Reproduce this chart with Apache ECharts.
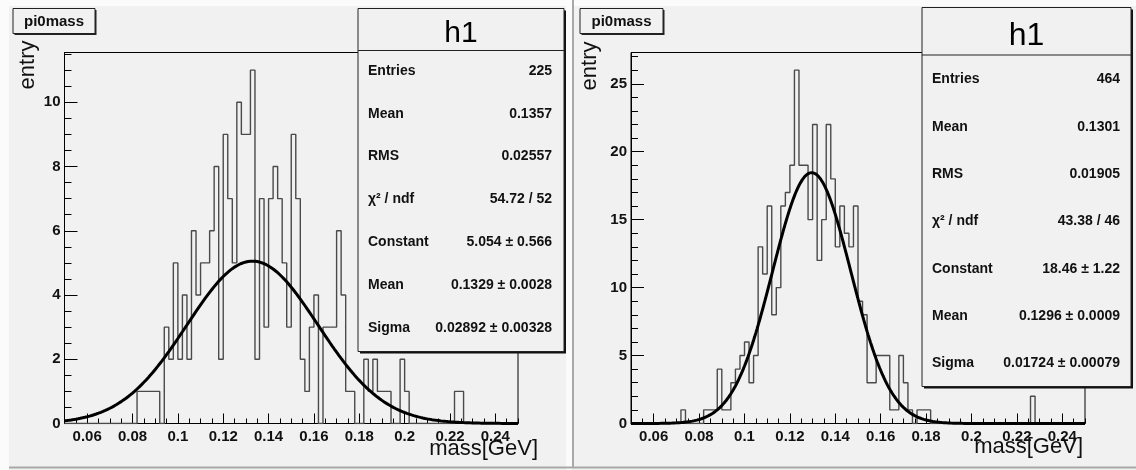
<!DOCTYPE html>
<html>
<head>
<meta charset="utf-8">
<script src="https://cdn.jsdelivr.net/npm/echarts@6/dist/echarts.min.js"></script>
<style>
  html, body { margin: 0; padding: 0; background: #ffffff; }
  #chart { width: 1136px; height: 470px; }
</style>
</head>
<body>
<div id="chart"></div>
<script>
// ---- histogram binning (shared by both pads) ----
const X_MIN = 0.05;
const X_MAX = 0.25;
const BIN_WIDTH = 0.002;

// ---- tick labels ----
const xTickLabels = [0.06, 0.08, 0.1, 0.12, 0.14, 0.16, 0.18, 0.2, 0.22, 0.24];
const leftYTickLabels = [0, 2, 4, 6, 8, 10];
const rightYTickLabels = [0, 5, 10, 15, 20, 25];
const leftYMax = 11.55;
const rightYMax = 27.3;

// ---- bin contents, 100 bins of 0.002 from 0.05 ----
const leftCounts = [
  0, 0, 0, 0, 0, 0, 0, 0, 0, 0,
  0, 0, 0, 0, 0, 0, 1, 1, 1, 1,
  1, 0, 3, 2, 5, 2, 4, 2, 6, 4,
  5, 5, 6, 8, 2, 9, 7, 5, 10, 9,
  9, 11, 2, 7, 3, 7, 8, 7, 5, 3,
  9, 7, 2, 1, 3, 4, 0, 3, 3, 3,
  6, 4, 1, 1, 0, 0, 2, 1, 2, 1,
  1, 1, 0, 0, 2, 1, 0, 0, 0, 0,
  0, 0, 0, 0, 0, 0, 1, 1, 0, 0,
  0, 0, 0, 0, 0, 0, 0, 0, 0, 0
];
const rightCounts = [
  0, 0, 0, 0, 0, 0, 0, 0, 0, 0,
  0, 1, 0, 0, 0, 0, 1, 1, 1, 4,
  1, 1, 3, 4, 5, 6, 3, 5, 13, 11,
  16, 8, 10, 16, 17, 19, 26, 19, 19, 15,
  22, 12, 15, 22, 18, 13, 16, 14, 13, 16,
  9, 8, 3, 3, 5, 5, 5, 1, 1, 5,
  3, 1, 0, 1, 1, 1, 0, 0, 0, 0,
  0, 0, 0, 0, 0, 0, 0, 0, 0, 0,
  0, 0, 0, 0, 0, 0, 0, 0, 2, 0,
  0, 0, 0, 0, 0, 0, 0, 0, 0, 0
];

// ---- statistics and gaussian fit results ----
const statLabels = ['Entries', 'Mean', 'RMS', 'χ² / ndf', 'Constant', 'Mean', 'Sigma'];
const leftStats = ['225', '0.1357', '0.02557', '54.72 / 52'];
const rightStats = ['464', '0.1301', '0.01905', '43.38 / 46'];
const leftFitParams = [5.054, 0.1329, 0.02892];
const leftFitErrors = [0.566, 0.0028, 0.00328];
const rightFitParams = [18.46, 0.1296, 0.01724];
const rightFitErrors = [1.22, 0.0009, 0.00079];

const FONT = '"Liberation Sans", Arial, Helvetica, sans-serif';

// histogram outline: one point per bin low edge, drawn as a step line
function histData(counts) {
  const pts = counts.map((c, i) => [+(X_MIN + i * BIN_WIDTH).toFixed(4), c]);
  pts.push([X_MAX, counts[counts.length - 1]]);
  return pts;
}

// gaussian evaluated from the fitted parameters
function fitData(p) {
  const pts = [];
  const n = 400;
  for (let i = 0; i <= n; i++) {
    const x = X_MIN + (X_MAX - X_MIN) * i / n;
    const z = (x - p[1]) / p[2];
    pts.push([x, p[0] * Math.exp(-0.5 * z * z)]);
  }
  return pts;
}

function stepValues(lo, hi, step) {
  const out = [];
  const n = Math.round((hi - lo) / step);
  for (let i = 0; i <= n; i++) out.push(+(lo + i * step).toFixed(6));
  return out;
}

const xMinorTicks = stepValues(X_MIN, X_MAX, 0.005);

function axesFor(gridIndex, yMax, yLabels, yMinorStep) {
  const label = { color: '#111', fontFamily: FONT, fontWeight: 'bold', fontSize: 15 };
  const xs = [
    {
      type: 'value', gridIndex, position: 'bottom', min: X_MIN, max: X_MAX,
      axisLine: { show: true, lineStyle: { color: '#000', width: 1 } },
      axisTick: { show: true, inside: true, length: 10, customValues: xTickLabels, lineStyle: { color: '#000', width: 1 } },
      axisLabel: Object.assign({ customValues: xTickLabels, margin: 6 }, label),
      splitLine: { show: false }
    },
    {
      type: 'value', gridIndex, position: 'bottom', min: X_MIN, max: X_MAX,
      axisLine: { show: false },
      axisTick: { show: true, inside: true, length: 5, customValues: xMinorTicks, lineStyle: { color: '#000', width: 1 } },
      axisLabel: { show: false },
      splitLine: { show: false }
    }
  ];
  const ys = [
    {
      type: 'value', gridIndex, position: 'left', min: 0, max: yMax,
      axisLine: { show: true, lineStyle: { color: '#000', width: 1 } },
      axisTick: { show: true, inside: true, length: 13, customValues: yLabels, lineStyle: { color: '#000', width: 1 } },
      axisLabel: Object.assign({ customValues: yLabels, margin: 4 }, label),
      splitLine: { show: false }
    },
    {
      type: 'value', gridIndex, position: 'left', min: 0, max: yMax,
      axisLine: { show: false },
      axisTick: { show: true, inside: true, length: 7, customValues: stepValues(0, Math.floor(yMax / yMinorStep) * yMinorStep, yMinorStep), lineStyle: { color: '#000', width: 1 } },
      axisLabel: { show: false },
      splitLine: { show: false }
    }
  ];
  return { xs, ys };
}

const leftAxes = axesFor(0, leftYMax, leftYTickLabels, 0.5);
const rightAxes = axesFor(1, rightYMax, rightYTickLabels, 1);

// stats box (ROOT style "h1" pave with shadow)
function statsBox(b, stats, fitP, fitE) {
  const values = stats.concat(fitP.map((v, i) => v + ' \u00b1 ' + fitE[i]));
  const els = [
    { type: 'rect', shape: { x: b.x + 2, y: b.y + 2, width: b.w, height: b.h }, style: { fill: '#111' }, z: 100 },
    { type: 'rect', shape: { x: b.x, y: b.y, width: b.w, height: b.h }, style: { fill: '#f1f1f1', stroke: '#222', lineWidth: 1 }, z: 101 },
    { type: 'line', shape: { x1: b.x, y1: b.div, x2: b.x + b.w, y2: b.div }, style: { stroke: '#222', lineWidth: 1 }, z: 102 },
    { type: 'text', x: b.x + b.w / 2, y: b.titleBase, z: 102,
      style: { text: 'h1', font: b.titleSize + 'px ' + FONT, fill: '#000', textAlign: 'center', textVerticalAlign: 'bottom' } }
  ];
  statLabels.forEach((lab, i) => {
    const y = b.row0 + i * b.rowStep;
    els.push({ type: 'text', x: b.labelX, y, z: 102,
      style: { text: lab, font: 'bold 14px ' + FONT, fill: '#111', textAlign: 'left', textVerticalAlign: 'bottom' } });
    els.push({ type: 'text', x: b.valueX, y, z: 102,
      style: { text: values[i], font: 'bold 14px ' + FONT, fill: '#111', textAlign: 'right', textVerticalAlign: 'bottom' } });
  });
  return els;
}

function titleBox(x, y, w, h) {
  return [
    { type: 'rect', shape: { x: x + 1.5, y: y + 1.5, width: w, height: h }, style: { fill: '#222' }, z: 100 },
    { type: 'rect', shape: { x, y, width: w, height: h }, style: { fill: '#f1f1f1', stroke: '#222', lineWidth: 1 }, z: 101 },
    { type: 'text', x: x + w / 2, y: y + h / 2 + 1, z: 102,
      style: { text: 'pi0mass', font: 'bold 15px ' + FONT, fill: '#111', textAlign: 'center', textVerticalAlign: 'middle' } }
  ];
}

function axisTitles(entryX, entryY, massX, massY) {
  return [
    { type: 'text', x: entryX, y: entryY, rotation: Math.PI / 2, z: 102,
      style: { text: 'entry', font: '22px ' + FONT, fill: '#111', textAlign: 'center', textVerticalAlign: 'middle' } },
    { type: 'text', x: massX, y: massY, z: 102,
      style: { text: 'mass[GeV]', font: '22px ' + FONT, fill: '#111', textAlign: 'right', textVerticalAlign: 'middle' } }
  ];
}

const padFrame = [
  { type: 'rect', shape: { x: 0, y: 0, width: 1136, height: 6 }, style: { fill: '#fbfbfb' }, z: 1 },
  { type: 'rect', shape: { x: 0, y: 0, width: 9, height: 470 }, style: { fill: '#fbfbfb' }, z: 1 },
  { type: 'rect', shape: { x: 566, y: 0, width: 6, height: 470 }, style: { fill: '#fbfbfb' }, z: 1 },
  { type: 'line', shape: { x1: 573, y1: 0, x2: 573, y2: 468 }, style: { stroke: '#a8a8a8', lineWidth: 2 }, z: 2 },
  { type: 'line', shape: { x1: 9, y1: 467.5, x2: 1136, y2: 467.5 }, style: { stroke: '#a8a8a8', lineWidth: 2 }, z: 2 }
];

const graphics = [].concat(
  padFrame,
  titleBox(13, 8.5, 82, 25),
  titleBox(580, 8.5, 83, 25),
  axisTitles(28, 65, 538, 449),
  axisTitles(590, 66, 1083, 447),
  statsBox({ x: 358, y: 8.5, w: 206, h: 343, div: 50.5, titleBase: 49, titleSize: 30,
             labelX: 368, valueX: 552, row0: 78, rowStep: 42.8 }, leftStats, leftFitParams, leftFitErrors),
  statsBox({ x: 922, y: 7.5, w: 209, h: 379, div: 55, titleBase: 52, titleSize: 32,
             labelX: 932, valueX: 1120, row0: 86.5, rowStep: 47.3 }, rightStats, rightFitParams, rightFitErrors)
);

const histStyle = { color: '#4a4a4a', width: 1.4 };
const fitStyle = { color: '#000', width: 3 };

const option = {
  animation: false,
  backgroundColor: '#f1f1f1',
  grid: [
    { left: 64.5, top: 52.5, width: 453.5, height: 371, show: true, borderColor: '#000', borderWidth: 1, backgroundColor: 'transparent' },
    { left: 631, top: 52.5, width: 454, height: 371, show: true, borderColor: '#000', borderWidth: 1, backgroundColor: 'transparent' }
  ],
  xAxis: leftAxes.xs.concat(rightAxes.xs),
  yAxis: leftAxes.ys.concat(rightAxes.ys),
  series: [
    { type: 'line', xAxisIndex: 0, yAxisIndex: 0, data: histData(leftCounts), step: 'end', symbol: 'none', lineStyle: histStyle, z: 3 },
    { type: 'line', xAxisIndex: 0, yAxisIndex: 0, data: fitData(leftFitParams), symbol: 'none', lineStyle: fitStyle, z: 4 },
    { type: 'line', xAxisIndex: 2, yAxisIndex: 2, data: histData(rightCounts), step: 'end', symbol: 'none', lineStyle: histStyle, z: 3 },
    { type: 'line', xAxisIndex: 2, yAxisIndex: 2, data: fitData(rightFitParams), symbol: 'none', lineStyle: fitStyle, z: 4 }
  ],
  graphic: { elements: graphics }
};

const chart = echarts.init(document.getElementById('chart'), null, { renderer: 'canvas' });
chart.setOption(option);
</script>
</body>
</html>
